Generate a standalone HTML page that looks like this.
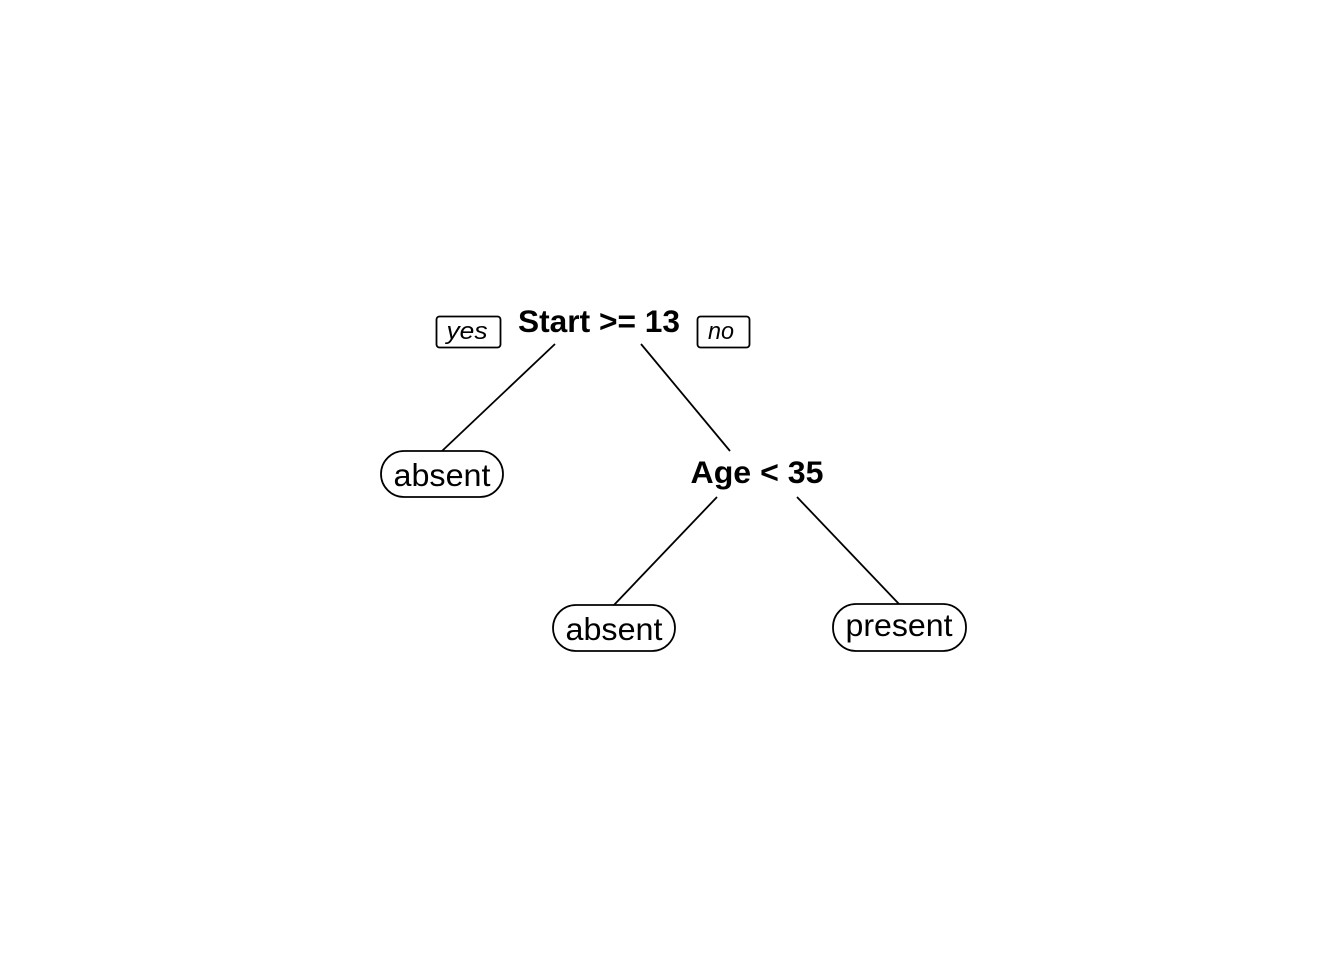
<!DOCTYPE html>
<html><head><meta charset="utf-8"><style>html,body{margin:0;padding:0;background:#fff;}svg{display:block}</style></head>
<body>
<svg width="1344" height="960" viewBox="0 0 1344 960" xmlns="http://www.w3.org/2000/svg" font-family="Liberation Sans, Arial, sans-serif">
<rect width="1344" height="960" fill="#fff"/>
<g stroke="#000" stroke-width="1.8" fill="none">
<line x1="555" y1="344" x2="442" y2="451"/>
<line x1="641" y1="344" x2="730" y2="451"/>
<line x1="717" y1="497" x2="614" y2="605"/>
<line x1="797" y1="497" x2="899" y2="604"/>
<rect x="436.5" y="316.5" width="64" height="31" rx="3"/>
<rect x="697.5" y="316.5" width="52" height="31" rx="3"/>
<rect x="381" y="451" width="122" height="46" rx="23" fill="#fff"/>
<rect x="553" y="605" width="122" height="46" rx="23" fill="#fff"/>
<rect x="833" y="604" width="133" height="47" rx="23" fill="#fff"/>
</g>
<g fill="#000" text-anchor="middle">
<text x="599" y="332" font-size="31.5" font-weight="bold" textLength="162" lengthAdjust="spacingAndGlyphs">Start &gt;= 13</text>
<text x="757" y="483" font-size="31.5" font-weight="bold" textLength="133" lengthAdjust="spacingAndGlyphs">Age &lt; 35</text>
<text x="467" y="339" font-size="24" font-style="italic" textLength="41" lengthAdjust="spacingAndGlyphs">yes</text>
<text x="721" y="339" font-size="24" font-style="italic" textLength="26" lengthAdjust="spacingAndGlyphs">no</text>
<text x="442" y="486" font-size="31.5" textLength="97" lengthAdjust="spacingAndGlyphs">absent</text>
<text x="614" y="640" font-size="31.5" textLength="97" lengthAdjust="spacingAndGlyphs">absent</text>
<text x="899" y="636" font-size="31.5" textLength="107" lengthAdjust="spacingAndGlyphs">present</text>
</g>
</svg>
</body></html>
